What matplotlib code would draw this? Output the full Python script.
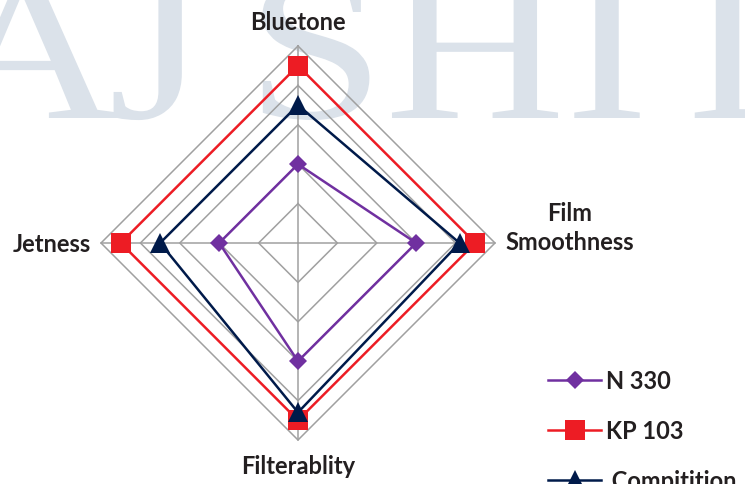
import numpy as np
import matplotlib
matplotlib.use("Agg")
import matplotlib.pyplot as plt
from matplotlib.textpath import TextPath
from matplotlib.patches import PathPatch
from matplotlib.font_manager import FontProperties
from matplotlib.transforms import Affine2D, IdentityTransform

# данные
categories = ["Bluetone", "Film\nSmoothness", "Filterablity", "Jetness"]
n330 = [2.0, 3.0, 3.0, 2.0]
kp103 = [4.5, 4.5, 4.5, 4.5]
compitition = [3.5, 4.1, 4.3, 3.5]
series_names = ["N 330", "KP 103", " Compitition"]
rings = [1, 2, 3, 4, 5]
watermark = ["A", "J", "S", "H", "I", "L"]

W, H = 745, 485
cx, cy, scale = 298, 244, 39.4   # центр и пикселей на единицу

fig = plt.figure(figsize=(W / 100, H / 100), dpi=100)
ax = fig.add_axes([0, 0, 1, 1])
ax.set_xlim(-cx / scale, (W - cx) / scale)
ax.set_ylim(-(H - cy) / scale, cy / scale)
ax.axis("off")

# водяной знак (растянутые буквы)
wm_x = [30, 157, 316, 475, 607, 760]
wm_font = FontProperties(family="Liberation Serif")
sx, sy, base = 250, 210, 119
for ch, px in zip(watermark, wm_x):
    tp = TextPath((0, 0), ch, size=1, prop=wm_font)
    ext = tp.get_extents()
    mid = (ext.x0 + ext.x1) / 2
    tr = Affine2D().translate(-mid, 0).scale(sx, sy).translate(px, H - base)
    fig.add_artist(PathPatch(tr.transform_path(tp), transform=IdentityTransform(),
                             facecolor="#dbe2ea", edgecolor="none", zorder=0))

# углы осей: сверху, по часовой стрелке
ang = np.pi / 2 - np.arange(len(categories)) * 2 * np.pi / len(categories)

def xy(vals):
    v = np.array(list(vals) + [vals[0]])
    a = np.append(ang, ang[0])
    return v * np.cos(a), v * np.sin(a)

ax.set_zorder(1)
ax.patch.set_visible(False)

# сетка
grid_c = "#a0a0a0"
for r in rings:
    gx, gy = xy([r] * len(categories))
    ax.plot(gx, gy, color=grid_c, lw=1.1, zorder=1)
for a in ang:
    ax.plot([0, rings[-1] * np.cos(a)], [0, rings[-1] * np.sin(a)],
            color=grid_c, lw=1.1, zorder=1)

# серии
styles = [
    (n330, "#7030a0", "D", 9.5),
    (kp103, "#ed1c24", "s", 14),
    (compitition, "#001a4a", "^", 14),
]
handles = []
for (vals, col, mk, ms), name in zip(styles, series_names):
    sx_, sy_ = xy(vals)
    h, = ax.plot(sx_, sy_, color=col, lw=1.8, marker=mk, ms=ms,
                 markeredgewidth=0, label=name, zorder=3)
    h.set_markevery(list(range(len(vals))))
    handles.append(h)

# подписи осей
font = dict(family="Lato", weight="bold", fontsize=17, color="#231f20")
lab_pos = [(298, 22), (570, 228), (298, 467), (52, 245)]
for lab, (px, py) in zip(categories, lab_pos):
    ax.text((px - cx) / scale, (cy - py) / scale, lab, ha="center",
            va="center", multialignment="center", linespacing=1.3, **font)

leg = ax.legend(handles=handles, loc="upper left",
                bbox_to_anchor=(548 / W, 1 - 370 / H), frameon=False,
                prop=dict(family="Lato", weight="bold", size=17),
                handlelength=2.25, handletextpad=0.2, labelspacing=1.15,
                borderpad=0, borderaxespad=0, numpoints=1)
for t in leg.get_texts():
    t.set_color("#231f20")

fig.savefig("out.png", dpi=100)
